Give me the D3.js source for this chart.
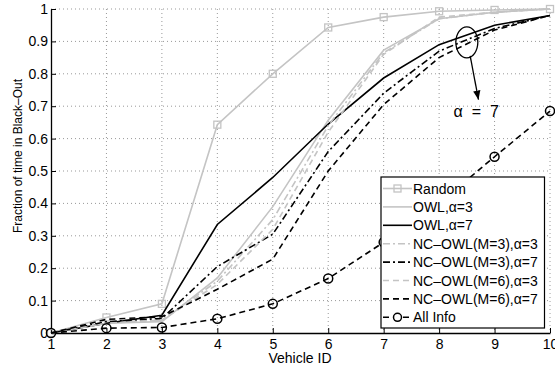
<!DOCTYPE html>
<html>
<head>
<meta charset="utf-8">
<script src="https://cdn.jsdelivr.net/npm/d3@7"></script>
<style>
  body { margin: 0; background: #fff; }
  text { font-family: "Liberation Sans", Arial, sans-serif; }
</style>
</head>
<body>
<div id="chart"></div>
<script>
// vehicle ids on the x axis
var vehicles = [1, 2, 3, 4, 5, 6, 7, 8, 9, 10];

// fraction of time in black-out, one array per curve
var randomVals   = [0, 0.048, 0.09, 0.643, 0.80, 0.943, 0.975, 0.993, 0.997, 1.0];
var owl3Vals     = [0, 0.03, 0.035, 0.17, 0.39, 0.657, 0.873, 0.97, 0.99, 1.0];
var owl7Vals     = [0, 0.03, 0.055, 0.335, 0.48, 0.645, 0.787, 0.89, 0.95, 0.98];
var nc3a3Vals    = [0, 0.03, 0.04, 0.16, 0.35, 0.64, 0.865, 0.97, 0.99, 1.0];
var nc3a7Vals    = [0, 0.035, 0.045, 0.205, 0.305, 0.56, 0.74, 0.87, 0.94, 0.98];
var nc6a3Vals    = [0, 0.03, 0.04, 0.15, 0.32, 0.62, 0.86, 0.975, 0.99, 1.0];
var nc6a7Vals    = [0, 0.042, 0.05, 0.135, 0.228, 0.50, 0.705, 0.85, 0.935, 0.98];
var allInfoVals  = [0, 0.015, 0.017, 0.044, 0.09, 0.168, 0.28, 0.40, 0.544, 0.685];

var xTicks = [1, 2, 3, 4, 5, 6, 7, 8, 9, 10];
var yTicks = [0, 0.1, 0.2, 0.3, 0.4, 0.5, 0.6, 0.7, 0.8, 0.9, 1];

var series = [
  {name: "Random", vals: randomVals, color: "#c4c4c4", dash: null, marker: "square"},
  {name: "OWL,\u03b1=3", vals: owl3Vals, color: "#c4c4c4", dash: null, marker: null},
  {name: "OWL,\u03b1=7", vals: owl7Vals, color: "#000", dash: null, marker: null},
  {name: "NC\u2013OWL(M=3),\u03b1=3", vals: nc3a3Vals, color: "#c4c4c4", dash: "7,3,2,3", marker: null},
  {name: "NC\u2013OWL(M=3),\u03b1=7", vals: nc3a7Vals, color: "#000", dash: "7,3,2,3", marker: null},
  {name: "NC\u2013OWL(M=6),\u03b1=3", vals: nc6a3Vals, color: "#c4c4c4", dash: "6,4", marker: null},
  {name: "NC\u2013OWL(M=6),\u03b1=7", vals: nc6a7Vals, color: "#000", dash: "6,4", marker: null},
  {name: "All Info", vals: allInfoVals, color: "#000", dash: "6,4", marker: "circle"}
];

var w = 555, h = 368;
var margin = {top: 9, right: 5, bottom: 35, left: 51};
var innerWidth = w - margin.left - margin.right;
var innerHeight = h - margin.top - margin.bottom;

var svg = d3.select("#chart").append("svg")
  .attr("width", w)
  .attr("height", h);

var xScale = d3.scaleLinear().domain([1, 10]).range([0, innerWidth]);
var yScale = d3.scaleLinear().domain([0, 1]).range([innerHeight, 0]);

var g = svg.append("g")
  .attr("transform", `translate(${margin.left},${margin.top})`);

// dotted grid
g.append("g").selectAll("line").data(xTicks.slice(1)).enter().append("line")
  .attr("x1", d => xScale(d)).attr("x2", d => xScale(d))
  .attr("y1", 0).attr("y2", innerHeight)
  .attr("stroke", "#999").attr("stroke-width", 1).attr("stroke-dasharray", "1,3");
g.append("g").selectAll("line").data(yTicks.slice(1)).enter().append("line")
  .attr("x1", 0).attr("x2", innerWidth)
  .attr("y1", d => yScale(d)).attr("y2", d => yScale(d))
  .attr("stroke", "#999").attr("stroke-width", 1).attr("stroke-dasharray", "1,3");

// axes
var xAxis = d3.axisBottom(xScale).tickValues(xTicks).tickSizeInner(-5).tickSizeOuter(0);
var yAxis = d3.axisLeft(yScale).tickValues(yTicks).tickSizeInner(-5).tickSizeOuter(0).tickPadding(3)
  .tickFormat(d3.format("~g"));

g.append("g").attr("transform", `translate(0,${innerHeight})`).call(xAxis)
  .call(a => a.selectAll("text").attr("font-size", 14).attr("fill", "#000").attr("y", 15.5).attr("dy", 0))
  .call(a => a.select(".domain").attr("stroke-width", 1.3));
g.append("g").call(yAxis)
  .call(a => a.selectAll("text").attr("font-size", 14).attr("fill", "#000"))
  .call(a => a.select(".domain").attr("stroke-width", 1.3));

// lines
var line = d3.line()
  .x((d, i) => xScale(vehicles[i]))
  .y(d => yScale(d));

series.forEach(function(s) {
  g.append("path")
    .datum(s.vals)
    .attr("d", line)
    .attr("fill", "none")
    .attr("stroke", s.color)
    .attr("stroke-width", 1.6)
    .attr("stroke-dasharray", s.dash);
  if (s.marker == "square") {
    g.selectAll(null).data(s.vals).enter().append("rect")
      .attr("x", (d, i) => xScale(vehicles[i]) - 3.5)
      .attr("y", d => yScale(d) - 3.5)
      .attr("width", 7).attr("height", 7)
      .attr("fill", "none").attr("stroke", s.color).attr("stroke-width", 1.3);
  }
  if (s.marker == "circle") {
    g.selectAll(null).data(s.vals).enter().append("circle")
      .attr("cx", (d, i) => xScale(vehicles[i]))
      .attr("cy", d => yScale(d))
      .attr("r", 4.5)
      .attr("fill", "none").attr("stroke", s.color).attr("stroke-width", 1.5);
  }
});

// annotation: ellipse + arrow + label
g.append("ellipse")
  .attr("cx", xScale(8.5)).attr("cy", yScale(0.897))
  .attr("rx", 11).attr("ry", 15.5)
  .attr("fill", "none").attr("stroke", "#000").attr("stroke-width", 1.3);
svg.append("defs").append("marker")
  .attr("id", "arrow").attr("viewBox", "0 0 10 10")
  .attr("refX", 10).attr("refY", 5)
  .attr("markerWidth", 7).attr("markerHeight", 7)
  .attr("orient", "auto")
  .append("path").attr("d", "M0,1 L10,5 L0,9 Z").attr("fill", "#000");
g.append("line")
  .attr("x1", xScale(8.56)).attr("y1", yScale(0.855))
  .attr("x2", xScale(8.71)).attr("y2", yScale(0.72))
  .attr("stroke", "#000").attr("stroke-width", 1.3)
  .attr("marker-end", "url(#arrow)");
g.append("text")
  .attr("x", xScale(8.26)).attr("y", yScale(0.667))
  .attr("font-family", "Liberation Serif, Times New Roman, serif")
  .attr("font-size", 16)
  .style("white-space", "pre")
  .text("\u03b1  =  7");

// axis labels
svg.append("text")
  .attr("x", 300).attr("y", 363)
  .attr("text-anchor", "middle").attr("font-size", 14)
  .text("Vehicle ID");
svg.append("text")
  .attr("transform", "translate(22,156) rotate(-90)")
  .attr("text-anchor", "middle").attr("font-size", 12)
  .text("Fraction of time in Black\u2013Out");

// legend
var lx = 381, ly = 177, lw = 163.5, lh = 151, rowH = 18.4;
var legend = svg.append("g");
legend.append("rect")
  .attr("x", lx).attr("y", ly).attr("width", lw).attr("height", lh)
  .attr("fill", "#fff").attr("stroke", "#000").attr("stroke-width", 1.2);
series.forEach(function(s, i) {
  var cy = ly + 11.5 + i * rowH;
  legend.append("line")
    .attr("x1", lx + 2).attr("x2", lx + 31)
    .attr("y1", cy).attr("y2", cy)
    .attr("stroke", s.color).attr("stroke-width", 1.6)
    .attr("stroke-dasharray", s.dash);
  if (s.marker == "square") {
    legend.append("rect").attr("x", lx + 16.5 - 3.5).attr("y", cy - 3.5)
      .attr("width", 7).attr("height", 7)
      .attr("fill", "none").attr("stroke", s.color).attr("stroke-width", 1.3);
  }
  if (s.marker == "circle") {
    legend.append("circle").attr("cx", lx + 16.5).attr("cy", cy).attr("r", 4)
      .attr("fill", "#fff").attr("stroke", s.color).attr("stroke-width", 1.5);
  }
  legend.append("text")
    .attr("x", lx + 32).attr("y", cy).attr("dy", "0.36em")
    .attr("font-size", 14)
    .text(s.name);
});
</script>
</body>
</html>
